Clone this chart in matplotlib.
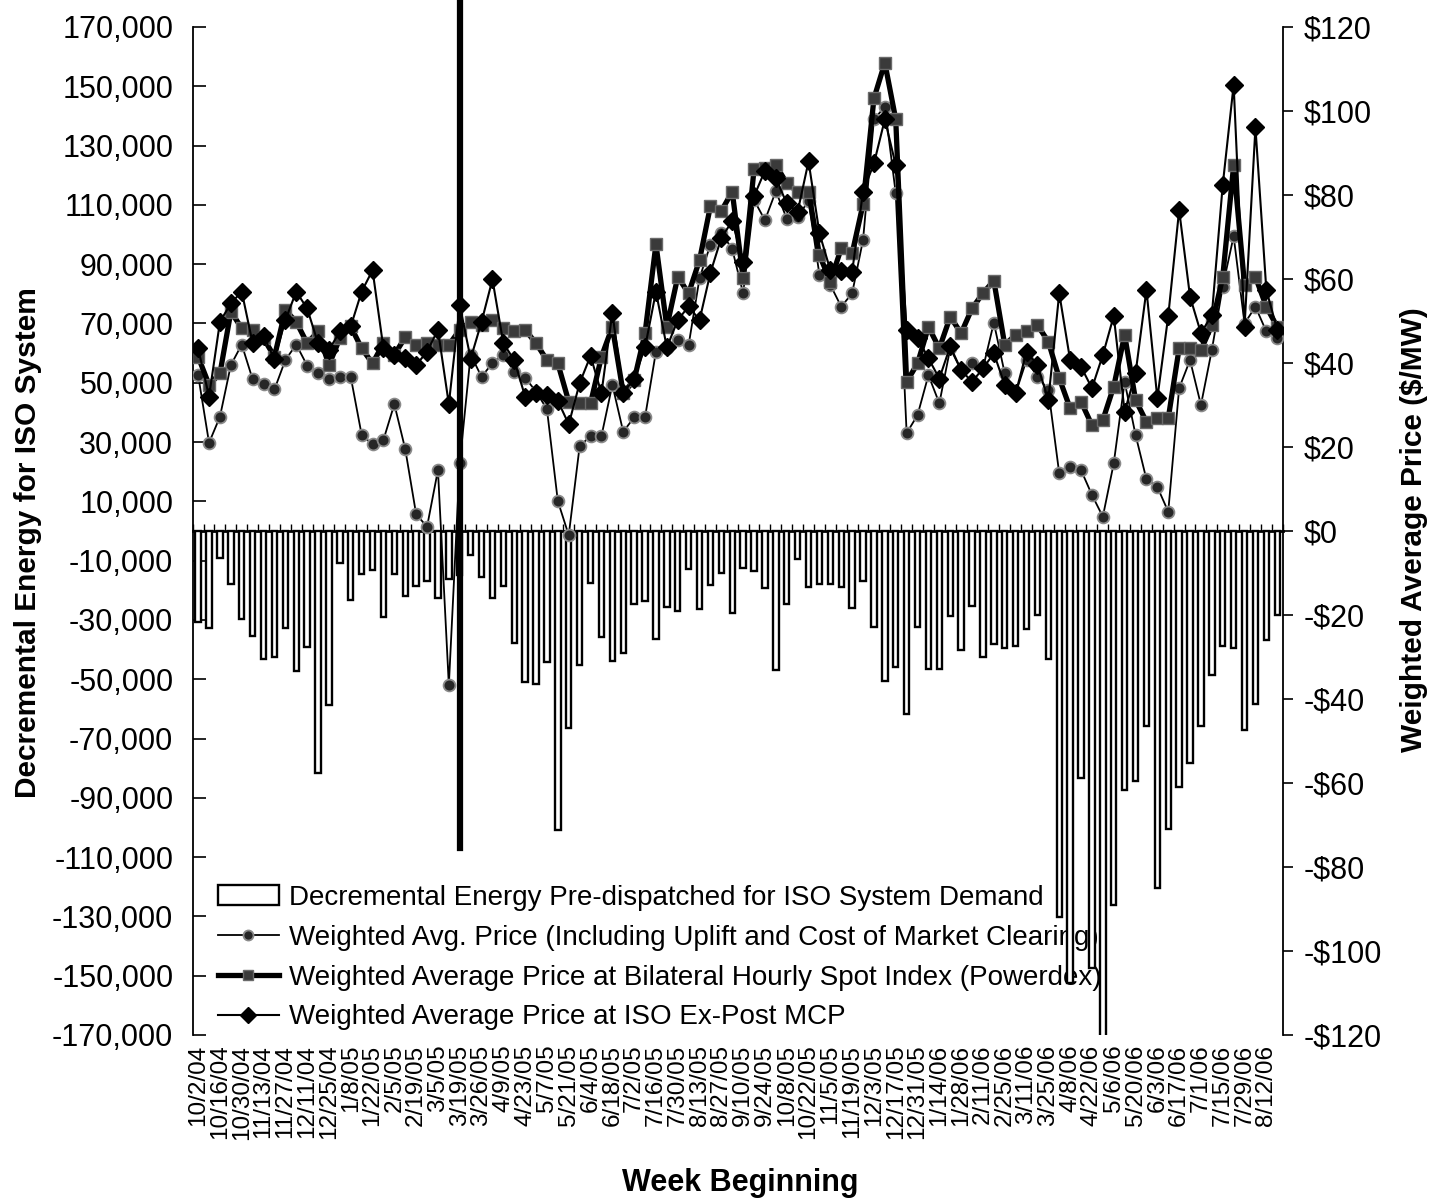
import numpy as np
import matplotlib
matplotlib.use('Agg')
import matplotlib.pyplot as plt
from matplotlib.ticker import FuncFormatter

plt.rcParams['font.family'] = ['Liberation Sans', 'DejaVu Sans']

# ---- data -------------------------------------------------------------
# labels shown on every second weekly category
week_labels = ['10/2/04', '10/16/04', '10/30/04', '11/13/04', '11/27/04', '12/11/04', '12/25/04',
               '1/8/05', '1/22/05', '2/5/05', '2/19/05', '3/5/05', '3/19/05', '3/26/05', '4/9/05',
               '4/23/05', '5/7/05', '5/21/05', '6/4/05', '6/18/05', '7/2/05', '7/16/05', '7/30/05',
               '8/13/05', '8/27/05', '9/10/05', '9/24/05', '10/8/05', '10/22/05', '11/5/05',
               '11/19/05', '12/3/05', '12/17/05', '12/31/05', '1/14/06', '1/28/06', '2/11/06',
               '2/25/06', '3/11/06', '3/25/06', '4/8/06', '4/22/06', '5/6/06', '5/20/06', '6/3/06',
               '6/17/06', '7/1/06', '7/15/06', '7/29/06', '8/12/06']

decremental_mwh = [-30600, -32800, -9200, -17900, -29800, -35400, -43300, -42400, -32800, -47200,
                   -39000, -81700, -58700, -10700, -23300, -14600, -13200, -28900, -14500, -21900,
                   -18400, -16900, -22700, -16200, -15000, -8100, -15400, -22700, -18500, -37700,
                   -51000, -51700, -44100, -100800, -66500, -45200, -17400, -35600, -43700, -41300,
                   -24600, -23600, -36400, -25500, -26900, -12800, -26400, -18200, -14100, -27800,
                   -12600, -13500, -19100, -46900, -24600, -9400, -19000, -18000, -18000, -19000,
                   -26100, -16800, -32300, -50600, -45800, -61800, -32500, -46600, -46600, -28700,
                   -40100, -25300, -42400, -38100, -39300, -38800, -33200, -28500, -43300, -130100,
                   -152600, -83400, -147500, -185000, -126100, -87400, -84300, -65800, -120500, -100600,
                   -86200, -78100, -65700, -48600, -38800, -39300, -67100, -58500, -36800, -28300]

price_uplift = [37.1, 21.0, 27.2, 39.5, 44.4, 36.1, 34.9, 33.7, 40.7, 44.4,
                39.4, 37.7, 36.1, 36.7, 36.7, 22.9, 20.6, 21.7, 30.2, 19.5,
                4.0, 1.0, 14.5, -36.7, 16.1, 42.0, 36.7, 40.0, 41.9, 37.9,
                36.5, 33.2, 29.0, 7.1, -1.0, 20.2, 22.6, 22.6, 34.8, 23.6,
                27.1, 27.1, 42.7, 43.6, 45.5, 44.3, 60.2, 68.2, 71.0, 67.1,
                56.6, 78.8, 74.0, 80.9, 74.4, 74.8, 78.6, 61.0, 58.6, 53.4,
                56.6, 69.3, 98.0, 101.0, 80.4, 23.3, 27.6, 37.1, 30.4, 43.5,
                38.3, 40.1, 38.7, 49.6, 37.5, 32.8, 40.7, 36.7, 33.6, 13.7,
                15.2, 14.5, 8.6, 3.4, 16.1, 35.5, 22.9, 12.3, 10.5, 4.6,
                34.0, 40.7, 30.0, 43.1, 58.2, 70.2, 49.4, 53.4, 47.5, 45.9]

price_powerdex = [41.5, 34.8, 37.5, 52.2, 48.3, 47.9, 45.9, 41.5, 52.6, 49.8,
                  44.7, 47.5, 39.5, 45.9, 48.7, 43.5, 39.9, 44.7, 42.0, 46.1,
                  44.3, 44.7, 44.3, 44.3, 47.9, 49.8, 49.0, 50.2, 48.3, 47.5,
                  47.9, 44.7, 40.7, 39.9, 30.8, 30.4, 30.4, 41.5, 48.6, 32.8,
                  35.9, 47.1, 68.3, 48.6, 60.5, 56.6, 64.5, 77.4, 76.2, 80.8,
                  60.2, 86.1, 86.5, 87.1, 82.8, 80.8, 80.8, 65.7, 59.4, 67.3,
                  66.1, 77.8, 103.0, 111.5, 98.0, 35.5, 39.9, 48.6, 43.5, 51.0,
                  47.1, 53.0, 56.6, 59.6, 44.3, 46.7, 47.5, 49.0, 45.1, 36.4,
                  29.2, 30.8, 25.2, 26.4, 34.4, 46.7, 31.2, 26.0, 26.8, 26.8,
                  43.5, 43.5, 43.1, 49.0, 60.5, 87.1, 58.6, 60.5, 53.4, 48.6]

price_iso_mcp = [43.5, 32.0, 49.8, 54.2, 57.0, 44.7, 46.4, 40.9, 50.2, 57.0,
                 53.0, 44.7, 43.1, 47.5, 48.7, 57.0, 62.1, 43.5, 42.0, 41.1,
                 39.5, 42.7, 47.9, 30.2, 53.8, 41.0, 49.8, 59.9, 44.7, 40.7,
                 32.0, 32.8, 32.4, 31.0, 25.4, 35.2, 41.7, 32.8, 52.0, 32.8,
                 36.3, 43.7, 57.0, 43.7, 50.2, 53.5, 50.2, 61.5, 69.8, 73.8,
                 64.0, 79.7, 85.8, 84.0, 78.0, 76.0, 88.0, 70.9, 62.1, 62.0,
                 61.7, 80.8, 87.5, 98.0, 87.1, 47.9, 46.0, 41.1, 36.3, 44.0,
                 38.3, 35.5, 38.7, 42.3, 34.8, 32.8, 42.7, 39.5, 31.2, 56.6,
                 40.7, 39.1, 34.0, 41.9, 51.2, 28.4, 37.5, 57.4, 31.6, 51.2,
                 76.4, 55.8, 47.1, 51.4, 82.4, 106.2, 48.6, 96.1, 57.4, 47.9]

redesign_week = 24  # category index of the market-change marker (3/19/05)

# ---- figure -----------------------------------------------------------
n = len(decremental_mwh)
x = np.arange(n)

fig = plt.figure(figsize=(14.42, 12.02), dpi=100)
ax = fig.add_axes([0.13363, 0.13894, 0.75589, 0.83860])

bars = ax.bar(x, decremental_mwh, width=0.5, facecolor='white', edgecolor='black',
              linewidth=1.7, zorder=2,
              label='Decremental Energy Pre-dispatched for ISO System Demand')
ax.set_xlim(-0.5, n - 0.5)
ax.set_ylim(-170000, 170000)
ax.set_yticks(np.arange(-170000, 170001, 20000))
ax.yaxis.set_major_formatter(FuncFormatter(lambda v, p: f'{int(round(v)):,}'))
ax.tick_params(axis='y', direction='in', length=9, width=1.2, labelsize=22, pad=14)

ax.set_xticks(x[::2])
ax.set_xticklabels(week_labels, rotation=90, fontsize=17.5)
ax.tick_params(axis='x', length=0, pad=7)

for s in ['top', 'bottom', 'right']:
    ax.spines[s].set_visible(False)
ax.spines['left'].set_linewidth(1.3)

# category axis drawn at zero
zero_axis = ax.secondary_xaxis(0.5)
zero_axis.set_alignment('top')
zero_axis.set_xticks(np.arange(n + 1) - 0.5)
zero_axis.tick_params(axis='x', direction='out', length=5, width=1.0,
                      labeltop=False, labelbottom=False)
zero_axis.spines['top'].set_linewidth(2.0)

# price axis
ax2 = ax.twinx()
ax2.set_ylim(-120, 120)
ax2.set_yticks(np.arange(-120, 121, 20))
ax2.yaxis.set_major_formatter(FuncFormatter(
    lambda v, p: f'${v:.0f}' if v >= 0 else f'-${-v:.0f}'))
ax2.tick_params(axis='y', direction='out', length=7, width=1.2, labelsize=22, pad=8)
for s in ['top', 'bottom', 'left']:
    ax2.spines[s].set_visible(False)
ax2.spines['right'].set_linewidth(1.3)

l1, = ax2.plot(x, price_uplift, color='black', lw=1.3, marker='o', ms=8.5,
               mfc='#262626', mec='#8a8a8a', mew=1.3, zorder=3,
               label='Weighted Avg. Price (Including Uplift and Cost of Market Clearing)')
l2, = ax2.plot(x, price_powerdex, color='black', lw=3.8, marker='s', ms=8,
               mfc='#3a3a3a', mec='#6a6a6a', mew=1.0, zorder=4,
               label='Weighted Average Price at Bilateral Hourly Spot Index (Powerdex)')
l3, = ax2.plot(x, price_iso_mcp, color='black', lw=1.5, marker='D', ms=9,
               mfc='black', mec='black', zorder=5,
               label='Weighted Average Price at ISO Ex-Post MCP')

ax2.axvline(redesign_week, ymin=0.1855, ymax=1.024, color='black', lw=4.5,
            clip_on=False, zorder=6)

leg = ax.legend(handles=[bars, l1, l2, l3], loc='upper left',
                bbox_to_anchor=(0.023, 0.149), frameon=False, fontsize=20,
                handlelength=2.2, handletextpad=0.35, labelspacing=0.5,
                borderaxespad=0, borderpad=0, markerscale=0.85)
leg.set_zorder(1)

ax.set_ylabel('Decremental Energy for ISO System', fontsize=21.5, fontweight='bold')
ax.yaxis.set_label_coords(-0.1383, 0.489)
ax2.set_ylabel('Weighted Average Price ($/MW)', fontsize=21.5, fontweight='bold')
ax2.yaxis.set_label_coords(1.1076, 0.501)
ax.set_xlabel('Week Beginning', fontsize=22, fontweight='bold')
ax.xaxis.set_label_coords(0.502, -0.132)

fig.savefig('out.png', dpi=100)
